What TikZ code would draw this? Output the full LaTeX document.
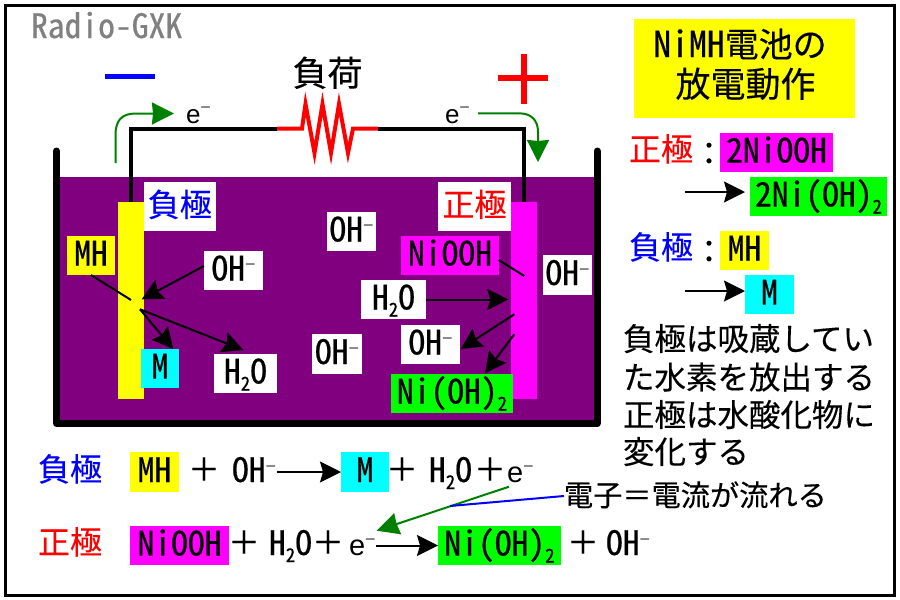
\documentclass[tikz,border=0pt]{standalone}
\usepackage{fontspec}
\usetikzlibrary{arrows.meta}
\setmainfont{Noto Sans CJK JP}[FakeBold=0.25]
\newfontfamily\hw{Noto Sans CJK JP}[RawFeature={+hwid},Scale=1.05,FakeBold=0.5]
\newfontfamily\lib{Liberation Sans}
\definecolor{tankpurple}{HTML}{800080}
\definecolor{dkgreen}{HTML}{008000}
\definecolor{mag}{HTML}{FF00FF}
\definecolor{cya}{HTML}{00FFFF}
\definecolor{yel}{HTML}{FFFF00}
\definecolor{gre}{HTML}{00FF00}
\newcommand{\fs}[1]{\fontsize{#1}{#1}\selectfont}
\newcommand{\subtwo}{\raisebox{-7pt}{\hw\fs{18}2}}
\newcommand{\supm}{\raisebox{10pt}{\lib\fs{18}\textcolor{black!70}{−}}}
\newcommand{\OHm}{{\hw OH}\supm}
\newcommand{\HtwoO}{{\hw H}\subtwo{\hw O}}
\newcommand{\NiOHtwo}{{\hw Ni(OH)}\subtwo}
\newcommand{\elec}{{\lib\fs{26}e}\raisebox{10pt}{\lib\fs{18}\textcolor{black!70}{−}}}
\newcommand{\eleq}{{\lib\fs{29}e}\raisebox{10pt}{\lib\fs{18}\textcolor{black!70}{−}}}
\newcommand{\bx}[7]{\node[lab,fill=#6,minimum width={(#4-#2)*1pt},minimum height={(#5-#3)*1pt}] (#1) at ({(#2+#4)/2},{(#3+#5)/2}) {#7};}
\tikzset{
  lab/.style={inner sep=0pt,outer sep=0pt,font=\fs{32},text height=24pt,text depth=4pt,align=center},
  txt/.style={inner sep=0pt,outer sep=0pt,font=\fs{32},text height=24pt,text depth=4pt,anchor=west},
  ctr/.style={txt,anchor=center},
  arr/.style={line width=2pt,-{Stealth[length=21pt,width=21pt,inset=3pt]}},
  thin line/.style={line width=2pt},
  garr/.style={line width=2pt,dkgreen,-{Stealth[length=22pt,width=22pt,inset=1pt]}},
  wire/.style={line width=4pt},
  res/.style={line width=4pt,red,line join=miter},
  wall/.style={line width=7pt,line cap=round,line join=round}
}
\begin{document}
\begin{tikzpicture}[x=1pt,y=-1pt]
\useasboundingbox (0,0) rectangle (900,600);
\fill[white] (0,0) rectangle (900,600);
\draw[line width=3pt,fill=white] (5,5) rectangle (894,595);
\node[txt,text=black!50] (logo) at (31,28) {\hw Radio-GXK};

% polarity marks
\fill[blue] (105,74) rectangle (155,79);
\fill[red] (498,75.2) rectangle (548,81);
\fill[red] (520.7,54) rectangle (526.7,103.5);
\node[ctr,font=\fs{35}] (load) at (327.5,76) {負荷};

% tank
\fill[tankpurple] (60,177) rectangle (594,420);
\draw[wall] (56.5,151) -- (56.5,423.5) -- (597,423.5) -- (597,151);

% electrodes
\node[inner sep=0,fill=yel,minimum width=25.5pt,minimum height=197pt] (neg) at (130.75,300.5) {};
\node[inner sep=0,fill=mag,minimum width=25.5pt,minimum height=197pt] (pos) at (523.75,300.5) {};

% wire and resistor
\coordinate (r1) at (277,128.5);
\coordinate (r2) at (378,128.5);
\draw[wire] (neg.north) -- (neg.north |- r1) -- (r1);
\draw[wire] (pos.north) -- (pos.north |- r2) -- (r2);
\draw[res] (r1) -- (302,128.5) -- (305.5,104) -- (314.5,153) -- (322.5,104) -- (331,153) -- (339,104) -- (348,153) -- (353,128.5) -- (r2);

% electron flow
\node[txt] (e1) at (186,113) {\elec};
\node[txt] (e2) at (445,113) {\elec};
\coordinate (g1s) at (115.5,163);
\coordinate (g1e) at (174,113.5);
\coordinate (g2s) at (478,113.3);
\coordinate (g2e) at (538,162);
\draw[garr] (g1s) -- (115.5,135) .. controls (115.5,120) and (122,113.5) .. (136,113.5) -- (g1e);
\draw[garr] (g2s) -- (519,113.3) .. controls (531,113.3) and (538,120) .. (538,132) -- (g2e);

% labels in the tank
\bx{negl}{143.5}{182}{216}{231}{white}{\textcolor{blue}{負極}}
\bx{posl}{438}{182}{511}{231}{white}{\textcolor{red}{正極}}
\bx{mh}{67}{236}{115}{275}{yel}{\hw MH}
\bx{ohA}{204}{251}{263}{290}{white}{\OHm}
\bx{mA}{141}{349}{179}{388}{cya}{\hw M}
\bx{hA}{214}{354}{277}{393}{white}{\HtwoO}
\bx{ohB}{312}{334}{362}{374}{white}{\OHm}
\bx{ohC}{327}{212}{376}{251}{white}{\OHm}
\bx{nio}{401}{236}{499}{275}{mag}{\hw NiOOH}
\bx{hB}{361}{280}{426}{319}{white}{\HtwoO}
\bx{ohD}{401}{325}{460}{364}{white}{\OHm}
\bx{nih}{391}{374}{513}{413}{gre}{\NiOHtwo}
\bx{ohE}{543}{255}{592}{295}{white}{\OHm}

% reaction arrows in the tank
\coordinate (n1) at (131,300);
\coordinate (n2) at (141.7,299.3);
\coordinate (n3) at (140,309.3);
\coordinate (n4) at (173.3,349);
\coordinate (n5) at (243.3,350);
\coordinate (ohAs) at (204,266);
\coordinate (p0) at (498.7,260);
\coordinate (p1) at (524.3,276);
\coordinate (p2) at (508.3,299.5);
\coordinate (p3) at (514.3,314.3);
\coordinate (p4) at (460.7,349);
\coordinate (p5) at (514.3,334.3);
\coordinate (p6) at (485,373.3);
\draw[thin line] (mh.south) -- (n1);
\draw[arr] (ohAs) -- (n2);
\draw[arr] (n3) -- (n4);
\draw[arr] (n3) -- (n5);
\draw[thin line] (p0) -- (p1);
\draw[arr] (hB.east) -- (p2);
\draw[arr] (p3) -- (p4);
\draw[arr] (p5) -- (p6);

% title box
\node[inner sep=0,fill=yel,minimum width=221pt,minimum height=99pt] (title) at (744.5,68.5) {};
\node[ctr,font=\fs{34}] (t1) at (740,47) {{\hw NiMH}電池の};
\node[ctr,font=\fs{35}] (t2) at (745.5,87) {放電動作};

% right column
\node[txt] (rp) at (629,151) {\textcolor{red}{正極}\raisebox{-4pt}{：}};
\bx{rnio}{720}{133}{833}{172}{mag}{\hw 2NiOOH}
\bx{rnih}{750}{177}{887}{216}{gre}{{\hw 2}\NiOHtwo}
\coordinate (ra1) at (685,192);
\coordinate (ra2) at (745,192);
\draw[arr] (ra1) -- (ra2);
\node[txt] (rn) at (629,249) {\textcolor{blue}{負極}\raisebox{-4pt}{：}};
\bx{rmh}{720}{231}{769}{270}{yel}{\hw MH}
\bx{rm}{745}{275}{794}{314}{cya}{\hw M}
\coordinate (rb1) at (685,291);
\draw[arr] (rb1) -- (rb1 -| rm.west);

% explanation
\node[txt,font=\fs{31.5}] (x1) at (623,340.5) {負極は吸蔵してい};
\node[txt,font=\fs{31.5}] (x2) at (623,379) {た水素を放出する};
\node[txt,font=\fs{31.5}] (x3) at (623,416.5) {正極は水酸化物に};
\node[txt,font=\fs{31.5}] (x4) at (623,453.5) {変化する};

% negative electrode equation
\node[txt] (eqn) at (38,471) {\textcolor{blue}{負極}};
\bx{emh}{130}{452}{179}{492}{yel}{\hw MH}
\node[ctr] (ep1) at (204,471) {＋};
\node[txt] (eoh) at (232,472) {\OHm};
\bx{em}{341}{452}{389}{492}{cya}{\hw M}
\draw[arr] (277,472) coordinate (ea0) -- (ea0 -| em.west);
\node[ctr] (ep2) at (402,471) {＋};
\node[txt] (eh) at (429,472) {\HtwoO};
\node[ctr] (ep3) at (490,471) {＋};
\node[txt] (ee) at (507,472) {\eleq};

% positive electrode equation
\node[txt] (eqp) at (38,544) {\textcolor{red}{正極}};
\bx{enio}{130}{526}{229}{565}{mag}{\hw NiOOH}
\node[ctr] (ep4) at (244,544) {＋};
\node[txt] (eh2) at (269,545) {\HtwoO};
\node[ctr] (ep5) at (328,544) {＋};
\node[txt] (ee2) at (349,545) {\eleq};
\bx{enih}{438}{526}{561}{565}{gre}{\NiOHtwo}
\coordinate (ea1) at (376,545.5);
\draw[arr] (ea1) -- (ea1 -| enih.west);
\node[ctr] (ep6) at (583,544) {＋};
\node[txt] (eoh2) at (606,545) {\OHm};

% current note
\node[txt,font=\fs{29.2}] (note) at (564,496) {電子＝電流が流れる};
\coordinate (cg1) at (509,486.7);
\coordinate (cg2) at (376.7,530.7);
\coordinate (cb) at (450,506);
\draw[garr] (cg1) -- (cg2);
\draw[line width=2pt,blue] (note.west) -- (cb);
\end{tikzpicture}
\end{document}
